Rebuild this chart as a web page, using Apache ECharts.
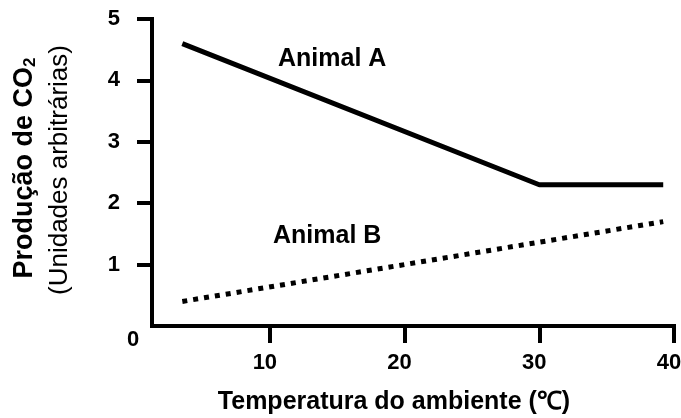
<!DOCTYPE html>
<html>
<head>
<meta charset="utf-8">
<script src="https://cdn.jsdelivr.net/npm/echarts@6/dist/echarts.min.js"></script>
<style>
  html, body { margin: 0; padding: 0; background: #fff; }
  #main { width: 681px; height: 418px; }
</style>
</head>
<body>
<div id="main"></div>
<script>
var tempA = [3.5, 30, 39.2];
var co2A = [4.6, 2.3, 2.3];
var tempB = [3.5, 39.2];
var co2B = [0.4, 1.7];
var xTicks = [10, 20, 30, 40];
var yTicks = [1, 2, 3, 4, 5];

var FONT = 'Liberation Sans, Arial, sans-serif';

function pairs(xs, ys) {
  var res = [];
  for (var i = 0; i < xs.length; i++) res.push([xs[i], ys[i]]);
  return res;
}

var dom = document.getElementById('main');
var myChart = echarts.init(dom);

var option = {
  animation: false,
  backgroundColor: '#fff',
  grid: { left: 152, right: 7, top: 19, bottom: 92, containLabel: false, outerBoundsMode: 'none' },
  xAxis: {
    type: 'value',
    min: 1.25,
    max: 40,
    splitLine: { show: false },
    axisLine: { lineStyle: { color: '#000', width: 4, cap: 'square' } },
    axisTick: { customValues: xTicks, length: 17, lineStyle: { color: '#000', width: 4 } },
    axisLabel: {
      customValues: xTicks,
      margin: 26,
      padding: [0, 10, 0, 0],
      color: '#000',
      fontSize: 22,
      fontWeight: 'bold',
      fontFamily: FONT
    }
  },
  yAxis: {
    type: 'value',
    min: 0,
    max: 5,
    interval: 1,
    splitLine: { show: false },
    axisLine: { lineStyle: { color: '#000', width: 4, cap: 'square' } },
    axisTick: { customValues: yTicks, length: 15, lineStyle: { color: '#000', width: 4 } },
    axisLabel: {
      customValues: yTicks,
      margin: 32,
      color: '#000',
      fontSize: 22,
      fontWeight: 'bold',
      fontFamily: FONT
    }
  },
  graphic: [
    { type: 'text', x: 278, y: 59, style: { text: 'Animal A', font: 'bold 25px ' + FONT, fill: '#000', align: 'left', verticalAlign: 'middle' } },
    { type: 'text', x: 273, y: 236, style: { text: 'Animal B', font: 'bold 25px ' + FONT, fill: '#000', align: 'left', verticalAlign: 'middle' } },
    { type: 'text', x: 133, y: 340, style: { text: '0', font: 'bold 22px ' + FONT, fill: '#000', align: 'center', verticalAlign: 'middle' } },
    { type: 'text', x: 394, y: 402, style: { text: 'Temperatura do ambiente (℃)', font: 'bold 25px ' + FONT, fill: '#000', align: 'center', verticalAlign: 'middle' } },
    {
      type: 'text', x: 25, y: 168, rotation: Math.PI / 2,
      style: {
        text: '{b|Produção de CO}{s|2}',
        align: 'center', verticalAlign: 'middle',
        rich: {
          b: { fontSize: 27, fontWeight: 'bold', fontFamily: FONT, fill: '#000', color: '#000' },
          s: { fontSize: 17, fontWeight: 'bold', fontFamily: FONT, fill: '#000', color: '#000', verticalAlign: 'bottom', padding: [10, 0, 0, 0] }
        }
      }
    },
    { type: 'text', x: 60, y: 170, rotation: Math.PI / 2, style: { text: '(Unidades arbitrárias)', font: '26px ' + FONT, fill: '#000', align: 'center', verticalAlign: 'middle' } }
  ],
  series: [
    {
      name: 'Animal A',
      type: 'line',
      data: pairs(tempA, co2A),
      symbol: 'none',
      lineStyle: { color: '#000', width: 5 }
    },
    {
      name: 'Animal B',
      type: 'line',
      data: pairs(tempB, co2B),
      symbol: 'none',
      lineStyle: { color: '#000', width: 5, type: [5, 6], cap: 'butt' }
    }
  ]
};

if (option && typeof option === 'object') {
  myChart.setOption(option, true);
}
</script>
</body>
</html>
